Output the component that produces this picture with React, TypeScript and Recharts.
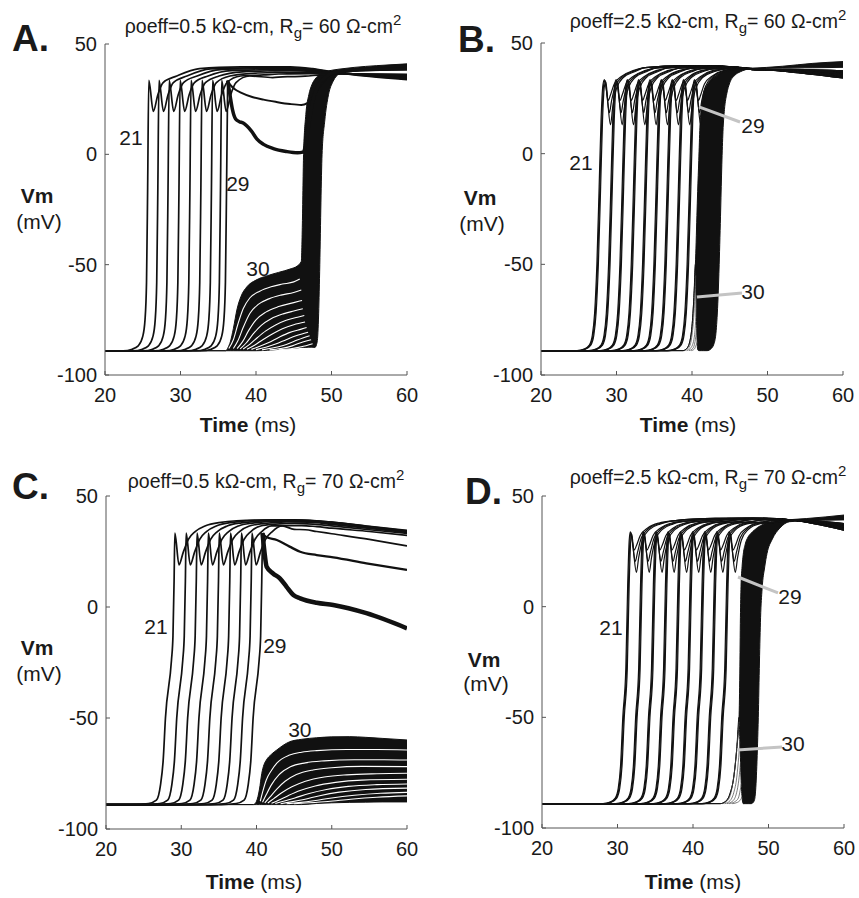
import React from 'react';
import { ComposedChart, Line, Area, XAxis, YAxis, ReferenceLine, ReferenceDot } from 'recharts';

type P = [number, number];
type Row3 = [number, number, number];

const FONT = '"Liberation Sans", Arial, Helvetica, sans-serif';
const REST = -89;
const X_TICKS = [20, 30, 40, 50, 60];
const Y_TICKS = [-100, -50, 0, 50];

/* ---------------- Panel A ---------------- */
const A_PEAKS = [25.8, 27.15, 28.5, 29.95, 31.4, 32.85, 34.25, 35.45];
const A_29_PEAK = 36.25;
const A_SPIKE: P[] = [[-3.4, -89], [-2.2, -88.3], [-1.4, -86.8], [-0.8, -82.5], [-0.5, -75], [-0.3, -58], [-0.15, -15], [0, 33.5], [0.6, 19.5], [1.2, 27], [1.9, 32.5], [3.7, 35.5]];
const A_TAILS: P[][] = [
  [[32.5, 38.8], [38, 39.6], [44.5, 39.7], [47.5, 38.8], [50, 37.4], [55, 35.3], [60, 33.8]],
  [[34, 38.7], [39, 39.2], [44.5, 39.3], [47.5, 38.5], [50, 37.3], [55, 35.5], [60, 34.2]],
  [[35.3, 38.4], [40, 38.8], [44.5, 38.9], [47.5, 38.2], [50, 37.2], [55, 35.7], [60, 34.6]],
  [[36.7, 37.9], [41, 38.3], [44.5, 38.4], [47.5, 37.9], [50, 37.1], [55, 35.9], [60, 35]],
  [[38.2, 37.4], [42, 37.8], [44.5, 37.9], [47.5, 37.6], [50, 37], [55, 36.1], [60, 35.4]],
  [[39.6, 36.7], [42.5, 37.1], [44.5, 37.2], [47.5, 37.1], [50, 36.8], [55, 36.2], [60, 35.7]],
  [[41, 36], [43, 36.4], [44.5, 36.5], [47.5, 36.6], [50, 36.6], [55, 36.3], [60, 36]],
  [[42.2, 34.8], [43.5, 35.1], [44.5, 35.2], [46.5, 35.4], [48.5, 36], [52, 36.4], [60, 36.3]],
];
const A_29A_TAIL: P[] = [[36.6, 31.5], [37.2, 29.5], [38, 28], [39.5, 26], [41, 24.8], [42.6, 23.8], [44.5, 22.8], [46, 22.4], [46.8, 23.2], [47.4, 25.5], [48, 28.5], [48.7, 32], [49.8, 36], [51, 37.5], [55, 38.5], [60, 39]];
const A_29B_TAIL: P[] = [[36.55, 27], [36.9, 20], [37.3, 16], [37.8, 14.8], [38.3, 14.2], [38.8, 12.8], [39.4, 10.5], [40.1, 7], [41, 4.5], [42.3, 2.6], [44, 1.3], [45.5, 0.7], [46.2, 1], [46.6, 5], [47, 14], [47.5, 24], [48.2, 31], [49.2, 35], [50.5, 37.2], [54, 38.3], [60, 38.8]];
const A_ENV: Row3[] = [
  [20, -89, -89], [36.0, -89, -89], [36.3, -89, -87.5], [36.6, -89, -85], [37.0, -89, -79], [37.5, -89, -70],
  [38.0, -89, -64.5], [38.8, -89, -60], [40.0, -89, -57], [41.5, -88.8, -55], [43.0, -88.4, -53.5],
  [44.5, -88.0, -52], [45.5, -87.7, -50.5], [46.0, -87.5, -48.5], [46.15, -87.5, -30], [46.3, -87.5, 0],
  [46.6, -87.5, 18], [47.0, -87.4, 27], [47.4, -87.4, 31.5], [47.8, -87.5, 34], [48.1, -85, 35.2],
  [48.3, -72, 36], [48.45, -50, 36.4], [48.6, -22, 36.7], [48.75, 0, 37], [49.1, 15, 37.4], [49.6, 27, 37.8],
  [50.2, 33, 38.2], [51.0, 36.3, 38.6], [53, 37.6, 39.4], [56, 38, 40.2], [60, 38.2, 41],
];
const A_WHITE: P[][] = [
  [[36.4, -88], [37.0, -84], [37.6, -77], [38.3, -70], [39.2, -65], [40.5, -62], [42, -60], [43.5, -58.8], [45, -57.8], [45.8, -56.5]],
  [[37.0, -88], [37.6, -84.5], [38.3, -78.5], [39.2, -72], [40.3, -68], [41.7, -65.5], [43.3, -63.8], [45, -62.6], [46.0, -61.5]],
  [[37.5, -88], [38.2, -85], [39.0, -80], [40, -75], [41.3, -71.5], [43, -69], [45, -67.2], [46.1, -66.2]],
  [[37.9, -88.2], [38.7, -85.5], [39.6, -81.5], [40.7, -77.5], [42, -74.5], [43.6, -72.3], [45, -71], [46.2, -70]],
  [[38.3, -88.2], [39.2, -86], [40.2, -83], [41.3, -80], [42.6, -77.3], [44, -75.2], [45.5, -73.8], [46.4, -73]],
  [[38.8, -88.3], [39.8, -86.5], [40.9, -84], [42.1, -81.5], [43.5, -79], [45, -77.2], [46.5, -76]],
  [[39.4, -88.4], [40.5, -87], [41.7, -85.3], [43, -83], [44.4, -80.8], [46, -79.2], [46.7, -78.5]],
  [[40, -88.5], [41.3, -87.4], [42.6, -86], [44, -84], [45.3, -82.2], [46.9, -80.6]],
  [[40.8, -88.6], [42.2, -87.8], [43.6, -86.6], [45, -84.8], [46.2, -83.2], [47.1, -82.2]],
  [[41.8, -88.6], [43.3, -88], [44.8, -86.8], [46.2, -85], [47.3, -84]],
  [[43, -88.6], [44.6, -88.1], [46, -87.2], [47.5, -85.8]],
];

/* ---------------- Panel B ---------------- */
const B_PEAKS = [28.4, 29.95, 31.45, 32.95, 34.45, 35.95, 37.4, 38.9, 40.35];
const B_SPK: P[][] = [
  [[-3.7, -89], [-2.7, -88.3], [-2.0, -86.5], [-1.6, -82], [-1.3, -72], [-1.0, -50], [-0.7, -15], [-0.45, 15], [-0.2, 31], [0, 33.5], [0.25, 29], [0.5, 24], [0.8, 26.5], [1.3, 31.5], [2.3, 35], [3.8, 37.5]],
  [[-3.6, -89], [-2.6, -88.3], [-1.9, -86.5], [-1.5, -82], [-1.2, -72], [-0.9, -50], [-0.6, -15], [-0.35, 15], [-0.1, 31], [0.1, 33], [0.35, 26], [0.65, 18.5], [0.95, 24], [1.45, 30.5], [2.4, 34.7], [3.9, 37.3]],
  [[-3.5, -89], [-2.5, -88.3], [-1.8, -86.5], [-1.4, -82], [-1.1, -72], [-0.8, -50], [-0.5, -15], [-0.25, 15], [0, 30.5], [0.2, 32.5], [0.45, 23], [0.8, 13], [1.1, 21], [1.6, 29.5], [2.5, 34.4], [4.0, 37]],
];
const B_TAILS: P[][] = [
  [[33.8, 38.9], [39, 39.8], [43, 39.7], [47.7, 38.5], [52, 37.3], [60, 34.2]],
  [[35.3, 38.8], [40.5, 39.7], [44, 39.5], [47.7, 38.4], [52, 37.4], [60, 34.6]],
  [[36.8, 38.7], [42, 39.6], [45, 39.3], [47.7, 38.3], [52, 37.5], [60, 35]],
  [[38.3, 38.6], [43, 39.4], [45.5, 39.1], [47.7, 38.2], [52, 37.6], [60, 35.4]],
  [[39.8, 38.5], [44, 39.2], [46, 38.9], [47.7, 38.1], [52, 37.7], [60, 35.8]],
  [[41.3, 38.4], [45, 39], [46.5, 38.7], [48, 38], [52, 37.8], [60, 36.2]],
  [[42.7, 38.3], [45.5, 38.8], [47, 38.5], [48.5, 38], [52, 37.9], [60, 36.6]],
  [[44.2, 38.2], [46.3, 38.6], [48, 38.3], [50, 38], [54, 37.9], [60, 37]],
  [[45.7, 38.1], [47.5, 38.4], [49, 38.2], [51, 38.1], [55, 38], [60, 37.4]],
];
const B_ENV: Row3[] = [
  [20, -89, -89], [38.8, -89, -89], [39.3, -88, -88], [39.7, -85, -85], [40.0, -78, -78], [40.25, -65, -65],
  [40.45, -50, -50], [40.55, -68, -40], [40.65, -82, -28], [40.75, -88.5, -17], [40.9, -89, -3], [41.05, -89, 12],
  [41.25, -89, 21], [41.5, -89, 27], [42.0, -89, 31], [42.5, -88.2, 33.2], [42.9, -86, 34.3], [43.2, -80, 35],
  [43.45, -65, 35.6], [43.6, -50, 36], [43.8, -25, 36.4], [43.95, -5, 36.7], [44.1, 10, 37], [44.3, 20, 37.4],
  [44.6, 27, 37.8], [45, 32, 38.2], [45.7, 35.5, 38.4], [46.4, 37, 38.5], [47.7, 38.3, 38.6], [52, 38.7, 39.5],
  [56, 38.8, 40.8], [60, 39, 41.6],
];
const B_FAN: P[][] = [
  [[39.0, -89], [39.6, -87.5], [40.0, -82], [40.3, -70], [40.5, -55]],
  [[39.3, -89], [39.9, -87.5], [40.3, -83], [40.5, -74], [40.6, -64]],
  [[39.6, -89], [40.1, -88], [40.4, -85], [40.6, -80]],
  [[39.9, -89], [40.3, -88.3], [40.55, -86.5], [40.7, -85]],
];

/* ---------------- Panel C ---------------- */
const C_PEAKS = [29.15, 30.65, 32.1, 33.6, 35.05, 36.55, 38.0, 39.4];
const C_29_PEAK = 40.8;
const C_SPIKE: P[] = [[-5.5, -89], [-3.5, -88.5], [-2.45, -87], [-1.9, -80], [-1.55, -69], [-1.25, -50], [-0.45, -24], [-0.25, -13], [-0.1, 12], [0, 33.3], [0.55, 19], [1.1, 24.5], [1.8, 30.5], [2.7, 34], [4, 36.5]];
const C_TAILS: P[][] = [
  [[35, 38], [40, 39.2], [45, 39.3], [50, 38.3], [55, 36.3], [60, 34.5]],
  [[36.5, 38], [41, 39.1], [45.5, 39.2], [50, 38.2], [55, 36.2], [60, 34.3]],
  [[38, 37.9], [42, 38.9], [46, 39], [50, 38], [55, 36], [60, 34.1]],
  [[39.5, 37.8], [43, 38.7], [46, 38.7], [50, 37.7], [55, 35.8], [60, 33.9]],
  [[41, 37.6], [44, 38.3], [47, 38.2], [50, 37.2], [55, 35.4], [60, 33.6]],
  [[42.5, 37.3], [45, 37.7], [47.5, 37.3], [50, 36.5], [55, 34.8], [60, 33.2]],
  [[44, 36.6], [46, 36.7], [48, 36.2], [50, 35.5], [55, 34], [60, 32.3]],
  [[45, 35], [46.5, 34.8], [48, 34], [50, 33], [55, 30.5], [60, 27.5]],
];
const C_29A_TAIL: P[] = [[41.3, 31.5], [42.7, 30.2], [44.4, 27.2], [45.8, 24.9], [48, 23.4], [50.2, 22.4], [54.6, 19.7], [60, 16.7]];
const C_29B_TAIL: P[] = [[41.05, 25], [41.35, 18.1], [42.2, 15.1], [43.1, 12.9], [44, 9.1], [44.9, 5.4], [45.8, 3.9], [48, 1.9], [50.2, 0.9], [54.6, -2.8], [60, -9.6]];
const C_ENV: Row3[] = [
  [20, -89, -89], [39.6, -89, -89], [40.0, -89, -87.5], [40.4, -89, -82], [40.7, -89, -75], [41.0, -89, -71],
  [41.3, -89, -69], [42.0, -89, -66.3], [42.7, -89, -64.4], [43.5, -89, -62.4], [44.4, -89, -60.7],
  [46, -89, -59.6], [48, -88.5, -58.9], [50, -88.2, -58.5], [52.4, -88, -58.4], [54.5, -87.9, -58.7],
  [56.8, -87.8, -59.2], [60, -87.8, -59.9],
];
const C_WHITE: P[][] = [
  [[40.5, -87.5], [40.8, -83.5], [41.3, -77.9], [42, -73.5], [42.7, -70.3], [44.4, -66.7], [46, -65.4], [48, -64.7], [52, -64.2], [56, -64.2], [60, -64.4]],
  [[40.8, -88], [41.3, -84.5], [42, -80], [43, -75.5], [44.5, -72], [46.5, -70.2], [49, -69.3], [53, -68.8], [57, -68.8], [60, -68.9]],
  [[41.1, -88.2], [41.8, -85.5], [42.7, -82], [43.8, -78.5], [45.3, -75.5], [47.5, -73.4], [50, -72.4], [54, -71.8], [60, -71.9]],
  [[41.5, -88.3], [42.3, -86.3], [43.3, -83.8], [44.7, -81], [46.5, -78.5], [49, -76.6], [52, -75.6], [56, -75.1], [60, -74.9]],
  [[42, -88.4], [43, -86.9], [44.2, -85], [45.8, -82.7], [47.8, -80.6], [50.5, -79], [54, -78], [60, -77.6]],
  [[42.5, -88.5], [43.7, -87.4], [45.1, -86], [47, -84], [49.3, -82.2], [52.2, -80.8], [56, -80], [60, -79.7]],
  [[43.2, -88.6], [44.6, -87.8], [46.3, -86.7], [48.4, -85], [51, -83.4], [54.5, -82.2], [60, -81.6]],
  [[44, -88.6], [45.6, -88.1], [47.6, -87.3], [50, -86], [53, -84.8], [56.5, -83.9], [60, -83.5]],
  [[45, -88.6], [47, -88.2], [49.5, -87.6], [52.5, -86.6], [56, -85.7], [60, -85.1]],
];

/* ---------------- Panel D ---------------- */
const D_PEAKS = [31.7, 33.4, 35.1, 36.7, 38.35, 39.95, 41.55, 43.15, 44.8];
const D_SPK: P[][] = [
  [[-3.7, -89], [-2.7, -88.3], [-2.0, -86.5], [-1.6, -82], [-1.3, -72], [-1.0, -50], [-0.6, -28], [-0.35, 10], [-0.15, 30], [0, 33.8], [0.25, 30], [0.5, 25.5], [0.8, 27.5], [1.3, 32], [2.3, 35.5], [3.8, 37.8]],
  [[-3.6, -89], [-2.6, -88.3], [-1.9, -86.5], [-1.5, -82], [-1.2, -72], [-0.9, -50], [-0.5, -28], [-0.25, 10], [-0.05, 30], [0.1, 33.3], [0.35, 27], [0.65, 20.5], [0.95, 24.5], [1.45, 31], [2.4, 35.2], [3.9, 37.6]],
  [[-3.5, -89], [-2.5, -88.3], [-1.8, -86.5], [-1.4, -82], [-1.1, -72], [-0.8, -50], [-0.4, -28], [-0.15, 10], [0.05, 29.5], [0.2, 32.8], [0.45, 24], [0.8, 15.5], [1.1, 22], [1.6, 30], [2.5, 34.8], [4.0, 37.4]],
];
const D_TAILS: P[][] = [
  [[37.7, 38.9], [43, 39.9], [48, 40], [53, 39.2], [56, 37.5], [60, 34.6]],
  [[39.4, 38.8], [44, 39.8], [48.5, 39.9], [53, 39.2], [56, 37.7], [60, 35]],
  [[41.1, 38.7], [45, 39.7], [49, 39.8], [53, 39.2], [56, 37.9], [60, 35.4]],
  [[42.7, 38.6], [46, 39.6], [49.5, 39.7], [53, 39.2], [56, 38.1], [60, 35.8]],
  [[44.35, 38.5], [47, 39.5], [50, 39.6], [53, 39.2], [56, 38.2], [60, 36.1]],
  [[45.95, 38.4], [48, 39.4], [50.5, 39.5], [53, 39.2], [56, 38.3], [60, 36.4]],
  [[47.55, 38.3], [49.2, 39.2], [51, 39.4], [53, 39.2], [56, 38.4], [60, 36.7]],
  [[49.15, 38.2], [50.6, 39], [52, 39.2], [54, 39.1], [57, 38.3], [60, 37]],
  [[50.8, 38.1], [52.2, 38.8], [53.6, 39], [55, 38.9], [58, 38.2], [60, 37.5]],
];
const D_ENV: Row3[] = [
  [20, -89, -89], [43.6, -89, -89], [44.3, -88, -88], [44.9, -84.5, -84.5], [45.4, -77, -77], [45.8, -64, -64],
  [46.1, -50, -50], [46.2, -60, -30], [46.28, -68, -5], [46.36, -77, 9], [46.5, -86, 18], [46.65, -89, 23.5],
  [46.9, -89, 28], [47.3, -89, 31.5], [47.7, -89, 33.2], [48.1, -87.8, 34.5], [48.35, -80, 35.2], [48.55, -62, 35.8],
  [48.65, -50, 36], [48.8, -25, 36.3], [48.95, -5, 36.6], [49.15, 8, 37], [49.5, 18, 37.5], [49.8, 24, 37.8],
  [50.5, 30.5, 38.5], [51.5, 35.5, 39.1], [52.8, 38.4, 39.3], [55, 38.8, 39.8], [60, 39.2, 41.4],
];
const D_FAN: P[][] = [
  [[43.9, -89], [44.6, -87.5], [45.1, -83], [45.5, -74], [45.85, -62], [46.1, -52]],
  [[44.2, -89], [44.9, -87.7], [45.4, -84], [45.8, -77], [46.05, -68], [46.2, -61]],
  [[44.5, -89], [45.2, -88], [45.7, -85], [46.0, -80], [46.2, -74], [46.3, -70]],
  [[44.8, -89], [45.5, -88.2], [46.0, -86.5], [46.25, -83], [46.4, -80]],
  [[45.2, -89], [45.9, -88.4], [46.3, -87.2], [46.5, -86]],
];

/* ---------------- helpers ---------------- */
const shift = (shape: P[], t0: number): P[] => shape.map(([dt, v]) => [t0 + dt, v] as P);
const trace = (t0: number, shape: P[], tail: P[]): P[] => [[20, REST], ...shift(shape, t0), ...tail];
const rows = (pts: P[]) => pts.map(([t, v]) => ({ t, v }));
const envRows = (r: Row3[]) => r.map(([t, lo, hi]) => ({ t, r: [lo, hi] }));

type LineSpec = { pts: P[]; color: string; width: number };
type Lbl = { t: number; v: number; text: string };
type Ptr = { a: P; b: P };
type PanelSpec = {
  left: number; top: number; w: number; h: number;
  env: Row3[]; under: LineSpec[]; over: LineSpec[]; labels: Lbl[]; ptrs: Ptr[];
};

const INK = '#111';
const single = (peaks: number[], shape: P[], tails: P[][], w: number): LineSpec[] =>
  peaks.map((tp, i) => ({ pts: trace(tp, shape, tails[i]), color: INK, width: w }));
const multi = (peaks: number[], shapes: P[][], tails: P[][], w: number): LineSpec[] =>
  peaks.flatMap((tp, i) => shapes.map((s) => ({ pts: trace(tp, s, tails[i]), color: INK, width: w })));

const A_UP = A_SPIKE.slice(0, 8);
const C_UP = C_SPIKE.slice(0, 10);

const PANELS: PanelSpec[] = [
  {
    left: 105, top: 44, w: 302, h: 331, env: A_ENV,
    under: A_WHITE.map((p) => ({ pts: p, color: '#fff', width: 1.1 })),
    over: [
      ...single(A_PEAKS, A_SPIKE, A_TAILS, 1.7),
      { pts: [[20, REST], ...shift(A_UP, A_29_PEAK)], color: INK, width: 1.7 },
      { pts: [[A_29_PEAK, A_UP[A_UP.length - 1][1]], ...A_29A_TAIL], color: INK, width: 2 },
      { pts: [[A_29_PEAK, A_UP[A_UP.length - 1][1]], ...A_29B_TAIL], color: INK, width: 3.5 },
    ],
    labels: [{ t: 23.44, v: 7.86, text: '21' }, { t: 37.6, v: -13, text: '29' }, { t: 40.26, v: -51.5, text: '30' }],
    ptrs: [],
  },
  {
    left: 541, top: 43, w: 302, h: 332, env: B_ENV,
    under: B_FAN.map((p) => ({ pts: p, color: '#444', width: 0.7 })),
    over: multi(B_PEAKS, B_SPK, B_TAILS, 1.2),
    labels: [{ t: 25.3, v: -3.8, text: '21' }, { t: 48.08, v: 12.9, text: '29' }, { t: 48.08, v: -62.1, text: '30' }],
    ptrs: [{ a: [40.93, 21.1], b: [46.36, 14.3] }, { a: [40.66, -64.8], b: [46.62, -63.0] }],
  },
  {
    left: 106, top: 496, w: 301, h: 333, env: C_ENV,
    under: C_WHITE.map((p) => ({ pts: p, color: '#fff', width: 1.1 })),
    over: [
      ...single(C_PEAKS, C_SPIKE, C_TAILS, 1.7),
      { pts: [[20, REST], ...shift(C_UP, C_29_PEAK)], color: INK, width: 1.7 },
      { pts: [[C_29_PEAK, C_UP[C_UP.length - 1][1]], ...C_29A_TAIL], color: INK, width: 2.3 },
      { pts: [[C_29_PEAK, C_UP[C_UP.length - 1][1]], ...C_29B_TAIL], color: INK, width: 4.5 },
    ],
    labels: [{ t: 26.64, v: -8.56, text: '21' }, { t: 42.44, v: -17.1, text: '29' }, { t: 45.76, v: -55, text: '30' }],
    ptrs: [],
  },
  {
    left: 542, top: 496, w: 302, h: 332, env: D_ENV,
    under: D_FAN.map((p) => ({ pts: p, color: '#444', width: 0.7 })),
    over: multi(D_PEAKS, D_SPK, D_TAILS, 1.2),
    labels: [{ t: 29.14, v: -9.6, text: '21' }, { t: 52.85, v: 4.8, text: '29' }, { t: 53.25, v: -61.6, text: '30' }],
    ptrs: [{ a: [45.96, 13.4], b: [51.26, 6.2] }, { a: [45.83, -64.8], b: [51.79, -63.4] }],
  },
];

const ML = 60, MT = 12, MR = 16, XH = 40;

function Panel({ spec }: { spec: PanelSpec }) {
  const width = ML + spec.w + MR;
  const height = MT + spec.h + XH;
  const tickStyle = { fill: '#1a1a1a', fontSize: 20, fontFamily: FONT };
  return (
    <div style={{ position: 'absolute', left: spec.left - ML, top: spec.top - MT, width, height }}>
      <ComposedChart width={width} height={height} margin={{ top: MT, right: MR, bottom: 0, left: 0 }}>
        <XAxis type="number" dataKey="t" domain={[20, 60]} ticks={X_TICKS} interval={0} allowDataOverflow
          height={XH} tickSize={-4} tickMargin={17} axisLine={{ stroke: '#555' }} tickLine={{ stroke: '#555' }} tick={tickStyle} />
        <YAxis type="number" domain={[-100, 50]} ticks={Y_TICKS} interval={0} allowDataOverflow
          width={ML} tickSize={-4} tickMargin={12} axisLine={{ stroke: '#555' }} tickLine={{ stroke: '#555' }} tick={tickStyle} />
        <Area data={envRows(spec.env)} dataKey="r" type="monotone" stroke={INK} strokeWidth={1} fill={INK}
          fillOpacity={1} isAnimationActive={false} dot={false} activeDot={false} />
        {spec.under.map((l, i) => (
          <Line key={'u' + i} data={rows(l.pts)} dataKey="v" type="monotone" stroke={l.color} strokeWidth={l.width}
            dot={false} activeDot={false} isAnimationActive={false} />
        ))}
        {spec.over.map((l, i) => (
          <Line key={'o' + i} data={rows(l.pts)} dataKey="v" type="monotone" stroke={l.color} strokeWidth={l.width}
            dot={false} activeDot={false} isAnimationActive={false} />
        ))}
        {spec.ptrs.map((p, i) => (
          <ReferenceLine key={'p' + i} segment={[{ x: p.a[0], y: p.a[1] }, { x: p.b[0], y: p.b[1] }]}
            stroke="#c4c4c4" strokeWidth={3} ifOverflow="visible" />
        ))}
        {spec.labels.map((lb, i) => (
          <ReferenceDot key={'l' + i} x={lb.t} y={lb.v} r={1} ifOverflow="visible"
            shape={(p: any) => (
              <text x={p.cx} y={p.cy} dy="0.36em" textAnchor="middle" fontSize={21} fontFamily={FONT} fill="#1a1a1a">{lb.text}</text>
            )} />
        ))}
      </ComposedChart>
    </div>
  );
}

const TITLES = [
  { x: 263, y: 33, rho: '0.5', rg: '60' },
  { x: 708, y: 28, rho: '2.5', rg: '60' },
  { x: 266, y: 488, rho: '0.5', rg: '70' },
  { x: 708, y: 484, rho: '2.5', rg: '70' },
];
const LETTERS = [
  { x: 12, y: 51, s: 'A.' }, { x: 458, y: 52, s: 'B.' }, { x: 12, y: 499, s: 'C.' }, { x: 465, y: 504, s: 'D.' },
];
const VM = [
  { x: 37, y1: 203, y2: 229 }, { x: 480, y1: 205, y2: 231 }, { x: 37, y1: 655, y2: 681 }, { x: 484, y1: 667, y2: 691 },
];
const TIME = [
  { x: 248, y: 432 }, { x: 688, y: 432 }, { x: 254, y: 889 }, { x: 693, y: 889 },
];

function Overlay() {
  const c = '#1a1a1a';
  return (
    <svg width={859} height={898} style={{ position: 'absolute', left: 0, top: 0, pointerEvents: 'none' }}>
      {LETTERS.map((l, i) => (
        <text key={'L' + i} x={l.x} y={l.y} fontSize={37} fontWeight="bold" fontFamily={FONT} fill={c}>{l.s}</text>
      ))}
      {TITLES.map((t, i) => (
        <text key={'T' + i} x={t.x} y={t.y} textAnchor="middle" fontSize={19.5} fontFamily={FONT} fill={c}>
          {'ρoeff=' + t.rho + ' kΩ-cm, R'}
          <tspan dy={5} fontSize={15}>g</tspan>
          <tspan dy={-5}>{'= ' + t.rg + ' Ω-cm'}</tspan>
          <tspan dy={-8} fontSize={15}>2</tspan>
        </text>
      ))}
      {VM.map((v, i) => (
        <g key={'V' + i}>
          <text x={v.x} y={v.y1} textAnchor="middle" fontSize={21} fontWeight="bold" fontFamily={FONT} fill={c}>Vm</text>
          <text x={v.x + 2} y={v.y2} textAnchor="middle" fontSize={21} fontFamily={FONT} fill={c}>(mV)</text>
        </g>
      ))}
      {TIME.map((t, i) => (
        <text key={'X' + i} x={t.x} y={t.y} textAnchor="middle" fontSize={21} fontFamily={FONT} fill={c}>
          <tspan fontWeight="bold">Time</tspan> (ms)
        </text>
      ))}
    </svg>
  );
}

export default function App() {
  return (
    <div style={{ position: 'absolute', left: 0, top: 0, width: 859, height: 898, overflow: 'hidden', background: '#fff' }}>
      {PANELS.map((p, i) => <Panel key={i} spec={p} />)}
      <Overlay />
    </div>
  );
}
